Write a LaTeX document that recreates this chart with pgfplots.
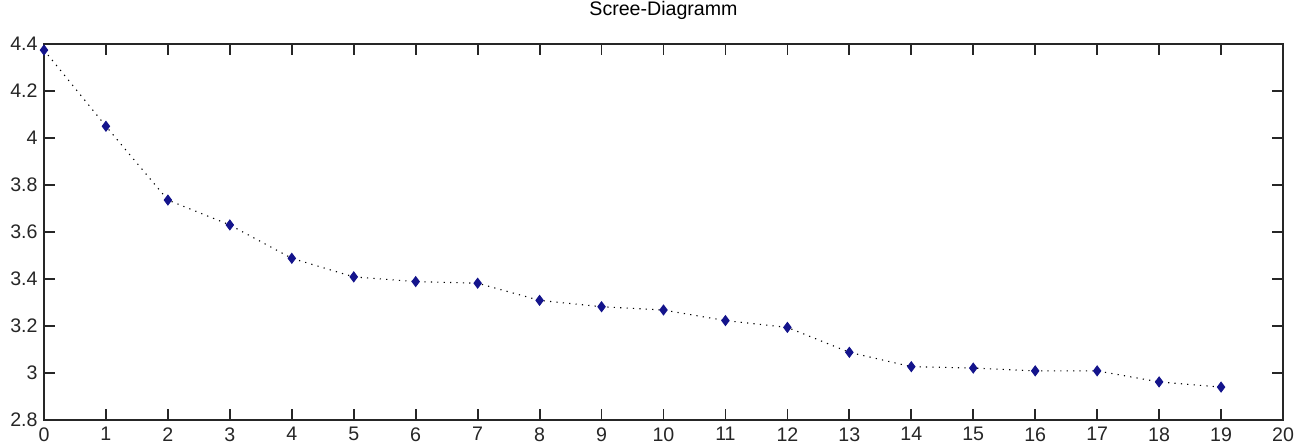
\documentclass[border=0pt]{standalone}
\usepackage{pgfplots}
\pgfplotsset{compat=1.18}
\usepackage{fontspec}
\setmainfont{Liberation Sans}
\definecolor{markblue}{rgb}{0.08,0.08,0.55}
\begin{document}
\begin{tikzpicture}[x=1pt,y=1pt]
\begin{axis}[
  at={(0,0)}, anchor=south west,
  width=619.5pt, height=188pt, scale only axis,
  xmin=0, xmax=20, ymin=2.8, ymax=4.4,
  xtick={0,1,...,20},
  ytick={2.8,3.0,3.2,3.4,3.6,3.8,4.0,4.2,4.4},
  yticklabels={2.8,3,3.2,3.4,3.6,3.8,4,4.2,4.4},
  tick align=inside,
  major tick length=5.5pt,
  axis line style={black!85, line width=0.9pt},
  every tick/.style={black!85, line width=0.9pt},
  /pgf/number format/assume math mode=true,
  ticklabel style={font=\fontsize{9.8}{11}\selectfont, black!85},
  xticklabel style={inner sep=0pt, yshift=-3.5pt},
  yticklabel style={inner sep=0pt, xshift=-3pt},
  title={Scree-Diagramm},
  title style={font=\fontsize{9.8}{11}\selectfont, at={(0.5,1)}, anchor=base, yshift=8pt, inner sep=0pt},
  clip=false,
]
\addplot[black, line width=0.55pt, dash pattern=on 0.6pt off 2.6pt,
  mark=diamond*, mark size=2.4pt,
  mark options={solid, draw=markblue, fill=markblue}]
  coordinates {
  (0,4.374) (1,4.050) (2,3.736) (3,3.630) (4,3.488)
  (5,3.409) (6,3.389) (7,3.382) (8,3.309) (9,3.282)
  (10,3.268) (11,3.223) (12,3.194) (13,3.088) (14,3.027)
  (15,3.021) (16,3.009) (17,3.009) (18,2.962) (19,2.940)
  };
\end{axis}
% page frame around the axis box
\pgfresetboundingbox
\path[use as bounding box] (-22,-11.5) rectangle (629,210);
\end{tikzpicture}
\end{document}
